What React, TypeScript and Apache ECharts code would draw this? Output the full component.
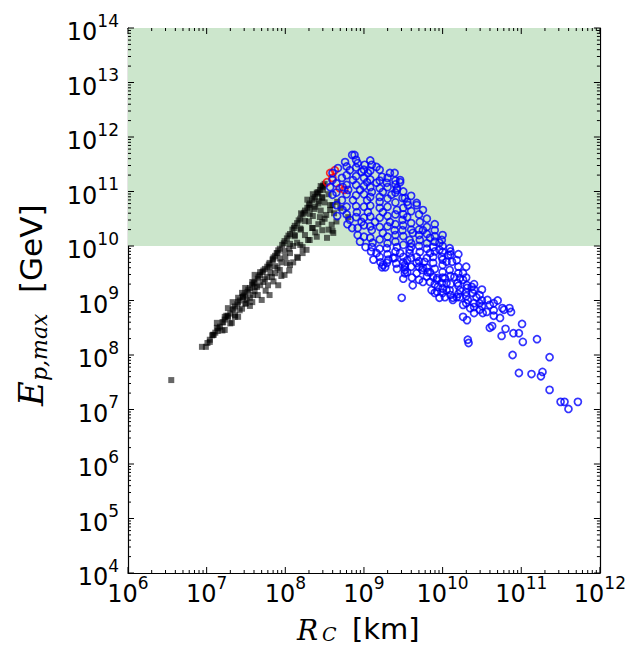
import React, { useEffect, useRef } from "react";
import * as echarts from "echarts";

// Tick values (km on x, GeV on y)
const xDecades = [1e6, 1e7, 1e8, 1e9, 1e10, 1e11, 1e12];
const yDecades = [1e4, 1e5, 1e6, 1e7, 1e8, 1e9, 1e10, 1e11, 1e12, 1e13, 1e14];
const minorSteps = [2, 3, 4, 5, 6, 7, 8, 9];

// UHECR threshold band (GeV)
const uhecrLow = 1e10;
const uhecrHigh = 1e14;

// Points, stored as [log10(R_C / km), log10(E_p,max / GeV)]
const blackBandTop: [number, number][] = [
  [7.04, 8.28], [7.11, 8.41], [7.17, 8.52], [7.23, 8.65], [7.30, 8.76], [7.36, 8.89],
  [7.42, 9.0], [7.49, 9.12], [7.55, 9.23], [7.61, 9.36], [7.68, 9.47], [7.74, 9.58],
  [7.8, 9.69], [7.87, 9.82], [7.93, 9.95], [7.99, 10.09], [8.06, 10.22], [8.12, 10.37],
  [8.19, 10.5], [8.25, 10.65], [8.31, 10.78], [8.38, 10.9], [8.44, 11.03], [8.5, 11.14],
  [7.14, 8.44], [7.27, 8.69], [7.39, 8.93], [7.52, 9.16], [7.65, 9.4], [7.77, 9.62],
  [7.9, 9.87], [8.02, 10.14], [8.15, 10.42], [8.28, 10.7], [8.41, 10.96],
  [7.07, 8.36], [7.2, 8.6], [7.33, 8.83], [7.46, 9.06], [7.58, 9.29], [7.71, 9.52],
  [7.84, 9.76], [7.96, 10.02], [8.09, 10.3], [8.22, 10.58], [8.34, 10.84], [8.47, 11.08],
  [7.01, 8.22], [7.09, 8.37], [7.15, 8.49], [7.21, 8.6], [7.27, 8.72], [7.34, 8.85],
  [7.4, 8.97], [7.47, 9.09], [7.53, 9.2], [7.6, 9.32], [7.66, 9.44], [7.72, 9.55],
  [7.79, 9.66], [7.85, 9.79], [7.91, 9.92], [7.98, 10.05], [8.04, 10.19], [8.11, 10.33],
  [8.17, 10.47], [8.24, 10.61], [8.3, 10.75], [8.36, 10.87], [8.42, 10.99], [8.48, 11.11],
];
const blackBandSecond: [number, number][] = [
  [7.23, 8.46], [7.36, 8.7], [7.49, 8.94], [7.61, 9.17], [7.74, 9.39], [7.87, 9.63],
  [7.99, 9.91], [8.12, 10.18], [8.25, 10.46], [8.38, 10.72], [8.47, 10.9],
  [7.3, 8.58], [7.42, 8.82], [7.55, 9.05], [7.68, 9.28], [7.81, 9.51], [7.93, 9.77],
  [8.06, 10.04], [8.19, 10.32], [8.31, 10.59], [8.43, 10.82],
];
const blackCloud: [number, number][] = [
  [6.55, 7.54], [6.94, 8.15], [6.99, 8.15], [7.04, 8.24], [7.08, 8.37], [7.13, 8.5],
  [7.13, 8.59], [7.25, 8.72], [7.27, 8.86], [7.32, 8.59], [7.36, 8.73], [7.33, 8.97],
  [7.4, 9.05], [7.45, 9.14], [7.49, 9.23], [7.51, 9.01], [7.58, 8.97], [7.59, 9.1],
  [7.64, 9.25], [7.58, 9.34], [7.61, 9.47], [7.68, 9.52], [7.72, 9.34], [7.78, 9.28],
  [7.77, 9.43], [7.8, 9.61], [7.84, 9.74], [7.89, 9.87], [7.87, 9.5], [7.83, 9.43],
  [8.27, 9.93], [8.53, 10.15], [7.7, 9.01], [7.8, 9.1], [7.91, 9.28], [7.99, 9.47],
  [8.06, 9.65], [8.16, 9.78], [8.19, 10.02], [8.29, 10.11], [8.34, 10.33], [8.47, 10.44],
  [8.52, 10.57], [8.57, 10.75], [8.59, 10.39], [8.8, 10.53], [8.61, 10.24], [8.47, 10.29],
  [8.4, 10.17], [8.31, 10.11], [8.22, 9.98], [8.15, 10.06], [8.06, 9.87], [8.66, 10.81],
  [8.57, 10.66], [8.6, 10.28], [8.35, 10.33], [8.44, 10.53], [8.31, 10.7], [8.6, 10.75],
  [8.47, 10.88], [8.48, 11.03], [8.4, 10.98], [7.23, 8.7], [7.46, 9.06], [7.61, 9.25],
  [7.93, 9.56], [8.02, 9.69], [8.15, 9.8], [8.22, 9.87],
  [8.2, 10.3], [8.25, 10.2], [8.3, 10.45], [8.35, 10.55], [8.38, 10.25], [8.42, 10.4],
  [8.45, 10.65], [8.5, 10.8], [8.5, 10.5], [8.55, 10.95], [8.55, 10.3], [8.62, 10.6],
  [8.65, 10.45], [8.7, 10.7], [8.1, 10.0], [8.12, 10.2], [8.0, 9.8], [8.05, 9.95],
  [7.95, 9.7], [7.9, 9.6], [7.85, 9.35], [7.95, 9.45], [8.05, 9.55], [8.1, 9.7],
  [7.75, 9.18], [7.65, 9.1], [7.55, 8.9], [7.45, 8.85], [7.4, 8.7], [7.2, 8.45],
  [7.5, 8.95], [8.2, 10.6], [8.28, 10.85], [8.35, 10.95], [8.45, 11.1], [8.42, 10.78],
  [8.37, 10.68],
];
const redPoints: [number, number][] = [
  [8.53, 11.17], [8.57, 11.34], [8.63, 11.39], [8.69, 11.06], [8.75, 11.03], [8.6, 11.25],
];
const bluePoints: [number, number][] = [
  [9.48, 9.05], [9.62, 9.28], [9.75, 9.34], [10.26, 8.7], [10.31, 8.64], [10.32, 8.28],
  [10.33, 8.22], [10.6, 8.5], [10.63, 8.53], [10.73, 8.68], [10.78, 8.83], [10.87, 8.79],
  [10.75, 8.35], [10.8, 8.48], [10.9, 8.4], [10.97, 8.4], [11.02, 8.24], [11.01, 8.57],
  [11.2, 8.29], [10.89, 8.0], [10.97, 7.67], [11.13, 7.65], [11.25, 7.61], [11.27, 7.69],
  [11.36, 7.96], [11.36, 7.36], [11.5, 7.14], [11.55, 7.14], [11.6, 7.01], [11.72, 7.14],
  [10.47, 8.83], [10.51, 8.77], [10.56, 8.79], [10.57, 9.01], [10.43, 9.06], [10.4, 8.77],
  [10.35, 8.86], [10.26, 8.92], [10.32, 9.01], [10.38, 9.14], [10.31, 9.23], [10.22, 9.19],
  [10.18, 9.06], [10.13, 9.01], [10.09, 9.19], [10.19, 9.32], [10.26, 9.5], [10.15, 9.43],
  [10.05, 9.32], [10.0, 9.14], [9.96, 9.05], [9.9, 9.14], [9.86, 9.19], [9.94, 9.25],
  [10.03, 9.41], [10.09, 9.56], [9.93, 9.41], [9.84, 9.34], [9.81, 9.52], [9.74, 9.56],
  [9.55, 9.52], [9.52, 9.65], [9.24, 9.65], [9.29, 9.69], [9.37, 9.78], [9.46, 9.87],
  [9.58, 9.87], [9.67, 9.8], [9.77, 9.71], [9.88, 9.69], [10.0, 9.65], [10.12, 9.71],
  [9.99, 9.8], [9.84, 9.87], [9.71, 9.89],
  [9.52, 10.88], [9.67, 10.75], [9.56, 10.75], [9.9, 10.29], [9.71, 10.44], [9.8, 10.35],
  [9.96, 10.06], [10.09, 9.96], [10.07, 9.83], [10.26, 9.38], [10.37, 9.25], [10.47, 9.1],
  [10.6, 8.92], [10.47, 8.95], [10.76, 8.86], [10.85, 8.86], [9.55, 9.74], [9.52, 9.56],
  [9.67, 9.69], [9.75, 9.6], [9.88, 9.43], [9.99, 9.32], [9.93, 9.16], [10.03, 9.06],
  [10.13, 9.05], [10.22, 9.06], [9.58, 9.93], [9.88, 9.8], [10.05, 9.71], [10.18, 9.74],
  [10.22, 9.41], [10.31, 9.28], [9.71, 10.11], [9.84, 10.15], [9.62, 10.24], [9.49, 10.29],
  [9.55, 10.53], [9.75, 10.29], [9.88, 9.98], [10.0, 9.89],
  [8.85, 11.67], [8.88, 11.67], [8.76, 11.54], [8.92, 11.52], [9.01, 11.49], [9.1, 11.49],
  [9.16, 11.45], [8.67, 11.43], [8.82, 11.39], [8.97, 11.36], [9.05, 11.34], [9.33, 11.34],
  [9.39, 11.34], [9.46, 11.17], [9.23, 11.27], [8.6, 11.34], [8.6, 11.21], [8.72, 11.25],
  [8.86, 11.21], [9.04, 11.17], [9.16, 11.16], [9.29, 11.16], [8.57, 11.08], [8.73, 11.08],
  [8.8, 11.03], [8.95, 11.03], [9.1, 10.99], [9.24, 10.99], [9.42, 11.03], [9.35, 10.94],
  [9.49, 10.88], [9.55, 10.81], [8.6, 10.94], [8.72, 10.84], [8.86, 10.84], [9.04, 10.84],
  [9.2, 10.81], [8.73, 10.66], [8.91, 10.62], [9.05, 10.62], [9.24, 10.62], [9.42, 10.66],
  [8.82, 10.48], [8.97, 10.44], [9.14, 10.44], [9.33, 10.44], [9.49, 10.48], [8.85, 10.33],
  [8.92, 10.33], [9.1, 10.29], [9.24, 10.24], [9.39, 10.29], [9.11, 10.06], [9.16, 9.87],
  [9.29, 9.96], [9.42, 9.98], [9.58, 10.11],
  [9.1, 9.98], [9.23, 9.61], [9.39, 9.78], [9.52, 9.61], [9.67, 9.5], [9.84, 9.52],
  [9.93, 9.38], [10.05, 9.19], [9.46, 11.21], [9.42, 11.06], [9.67, 10.79], [9.75, 10.66],
  [9.99, 10.11], [9.96, 9.93], [9.27, 9.61], [9.52, 9.5],
  [8.65, 11.15], [8.65, 10.98], [8.65, 10.75], [8.66, 10.55],
  [8.78, 11.46], [8.78, 11.3], [8.78, 11.12], [8.78, 10.95], [8.78, 10.72], [8.78, 10.58], [8.79, 10.4],
  [8.9, 11.58], [8.9, 11.44], [8.9, 11.28], [8.9, 11.12], [8.9, 10.93], [8.9, 10.73], [8.9, 10.53], [8.92, 10.2], [8.95, 10.08],
  [9.0, 11.4], [9.0, 11.25], [9.0, 11.1], [9.0, 10.95], [9.0, 10.72], [9.0, 10.52], [9.0, 10.38], [9.0, 10.17], [9.02, 9.98],
  [9.08, 11.57], [9.08, 11.38], [9.08, 11.22], [9.08, 11.08], [9.08, 10.9], [9.08, 10.74], [9.08, 10.54], [9.08, 10.36], [9.08, 10.15], [9.09, 9.9], [9.12, 9.75],
  [9.2, 11.4], [9.2, 11.2], [9.2, 11.06], [9.2, 10.9], [9.2, 10.7], [9.2, 10.52], [9.2, 10.35], [9.2, 10.12], [9.2, 9.95], [9.2, 9.8], [9.21, 9.7],
  [9.3, 11.25], [9.3, 11.08], [9.3, 10.87], [9.3, 10.72], [9.3, 10.55], [9.3, 10.36], [9.3, 10.17], [9.3, 10.05], [9.3, 9.85], [9.31, 9.75],
  [9.4, 11.2], [9.4, 11.13], [9.4, 10.98], [9.4, 10.8], [9.4, 10.58], [9.4, 10.4], [9.4, 10.2], [9.4, 10.08], [9.4, 9.9], [9.41, 9.68], [9.42, 9.58],
  [9.5, 11.0], [9.5, 10.7], [9.5, 10.58], [9.5, 10.38], [9.5, 10.18], [9.5, 10.02], [9.5, 9.8], [9.5, 9.7], [9.5, 9.4],
  [9.6, 10.92], [9.6, 10.64], [9.6, 10.42], [9.6, 10.3], [9.6, 10.05], [9.6, 9.98], [9.6, 9.78], [9.6, 9.62], [9.61, 9.42],
  [9.7, 10.58], [9.7, 10.3], [9.7, 10.2], [9.7, 10.0], [9.7, 9.72], [9.7, 9.62], [9.7, 9.38],
  [9.8, 10.5], [9.8, 10.22], [9.8, 10.05], [9.8, 9.95], [9.8, 9.78], [9.8, 9.6], [9.8, 9.44],
  [9.9, 10.4], [9.9, 10.18], [9.9, 10.08], [9.9, 9.9], [9.9, 9.58], [9.9, 9.3],
  [10.0, 10.2], [10.0, 10.0], [10.0, 9.75], [10.0, 9.52], [10.0, 9.42], [10.0, 9.22],
  [10.1, 9.9], [10.1, 9.84], [10.1, 9.45], [10.1, 9.3], [10.1, 9.1],
  [10.2, 9.85], [10.2, 9.62], [10.2, 9.5], [10.2, 9.27], [10.2, 9.12],
  [10.3, 9.62], [10.3, 9.42], [10.3, 9.15], [10.3, 9.08], [10.3, 8.95],
  [10.4, 9.3], [10.4, 9.2], [10.4, 8.95], [10.4, 8.88],
  [10.5, 9.2], [10.5, 9.0], [10.5, 8.9], [10.65, 8.95], [10.65, 8.82], [10.65, 8.72], [10.7, 9.0],
];

const toData = (pts: [number, number][]) => pts.map(([lr, le]) => [Math.pow(10, lr), Math.pow(10, le)]);
const minorOf = (decades: number[]) => {
  const out: number[] = [];
  decades.slice(0, -1).forEach((d) => minorSteps.forEach((k) => out.push(k * d)));
  return out;
};

const SANS = "DejaVu Sans";
const MATH = "DejaVu Serif";
const MAJOR_LEN = 6;
const MINOR_LEN = 3;

export default function App() {
  const ref = useRef<HTMLDivElement>(null);
  useEffect(() => {
    if (!ref.current) return;
    const chart = echarts.init(ref.current, null, { renderer: "svg" });
    const expFmt = (v: number) => `{b|10}{s|${Math.round(Math.log10(v))}}`;
    const rich = {
      b: { fontSize: 24, fontFamily: SANS, color: "#000", lineHeight: 32, verticalAlign: "bottom" },
      s: { fontSize: 17, fontFamily: SANS, color: "#000", lineHeight: 32, verticalAlign: "top" },
    };
    const frameLine = { show: true, lineStyle: { color: "#000", width: 1.2 } };
    const mkX = (pos: string, labels: boolean) => ({
      type: "log",
      logBase: 10,
      min: 1e6,
      max: 1e12,
      position: pos,
      axisLine: frameLine,
      axisTick: { show: false },
      axisLabel: labels
        ? { show: true, customValues: xDecades, formatter: expFmt, rich, margin: 1 }
        : { show: false },
      splitLine: { show: false },
      minorTick: { show: false },
    });
    const mkY = (pos: string, labels: boolean) => ({
      type: "log",
      logBase: 10,
      min: 1e4,
      max: 1e14,
      position: pos,
      axisLine: frameLine,
      axisTick: { show: false },
      axisLabel: labels
        ? { show: true, customValues: yDecades, formatter: expFmt, rich, margin: 9 }
        : { show: false },
      splitLine: { show: false },
      minorTick: { show: false },
    });

    const xTickData = [
      ...xDecades.map((v) => [v, 1e9, MAJOR_LEN]),
      ...minorOf(xDecades).map((v) => [v, 1e9, MINOR_LEN]),
    ];
    const yTickData = [
      ...yDecades.map((v) => [1e9, v, MAJOR_LEN]),
      ...minorOf(yDecades).map((v) => [1e9, v, MINOR_LEN]),
    ];
    const tickStyle = { stroke: "#000", lineWidth: 1 };

    chart.setOption({
      animation: false,
      backgroundColor: "#fff",
      grid: { left: 128, top: 28, width: 472, height: 545, containLabel: false },
      xAxis: [mkX("bottom", true), mkX("top", false)],
      yAxis: [mkY("left", true), mkY("right", false)],
      series: [
        {
          type: "scatter",
          data: [],
          z: 1,
          silent: true,
          markArea: {
            silent: true,
            itemStyle: { color: "#cce6cc" },
            data: [[{ yAxis: uhecrLow }, { yAxis: uhecrHigh }]],
          },
        },
        {
          type: "scatter",
          name: "black",
          z: 2,
          symbol: "rect",
          symbolSize: 6,
          itemStyle: { color: "rgba(0,0,0,0.75)" },
          data: toData([...blackCloud, ...blackBandSecond, ...blackBandTop]),
        },
        {
          type: "scatter",
          name: "red",
          z: 3,
          symbol: "circle",
          symbolSize: 7,
          itemStyle: { color: "rgba(255,0,0,0)", borderColor: "#ff0000", borderWidth: 1.7 },
          data: toData(redPoints),
        },
        {
          type: "scatter",
          name: "blue",
          z: 4,
          symbol: "circle",
          symbolSize: 7,
          itemStyle: { color: "rgba(0,0,255,0)", borderColor: "#0000ff", borderWidth: 1.7 },
          data: toData(bluePoints),
        },
        {
          type: "custom",
          name: "xticks",
          z: 6,
          silent: true,
          clip: false,
          xAxisIndex: 0,
          yAxisIndex: 0,
          data: xTickData,
          renderItem: (params: any, api: any) => {
            const cs = params.coordSys;
            const x = api.coord([api.value(0), api.value(1)])[0];
            const len = api.value(2);
            const yb = cs.y + cs.height;
            const yt = cs.y;
            return {
              type: "group",
              children: [
                { type: "line", shape: { x1: x, y1: yb, x2: x, y2: yb - len }, style: tickStyle },
                { type: "line", shape: { x1: x, y1: yt, x2: x, y2: yt + len }, style: tickStyle },
              ],
            };
          },
        },
        {
          type: "custom",
          name: "yticks",
          z: 6,
          silent: true,
          clip: false,
          xAxisIndex: 0,
          yAxisIndex: 0,
          data: yTickData,
          renderItem: (params: any, api: any) => {
            const cs = params.coordSys;
            const y = api.coord([api.value(0), api.value(1)])[1];
            const len = api.value(2);
            const xl = cs.x;
            const xr = cs.x + cs.width;
            return {
              type: "group",
              children: [
                { type: "line", shape: { x1: xl, y1: y, x2: xl + len, y2: y }, style: tickStyle },
                { type: "line", shape: { x1: xr, y1: y, x2: xr - len, y2: y }, style: tickStyle },
              ],
            };
          },
        },
      ],
      graphic: [
        { type: "text", left: 442, top: 119, style: { text: "UHECRs", fontSize: 33, fontFamily: SANS, fill: "#000" } },
        { type: "text", x: 297, y: 630, style: { text: "R", fontSize: 28, fontFamily: MATH, fontStyle: "italic", fill: "#000", align: "left", verticalAlign: "middle" } },
        { type: "text", x: 322, y: 634, style: { text: "C", fontSize: 19, fontFamily: MATH, fontStyle: "italic", fill: "#000", align: "left", verticalAlign: "middle" } },
        { type: "text", x: 352, y: 629, style: { text: "[km]", fontSize: 29, fontFamily: SANS, fill: "#000", align: "left", verticalAlign: "middle" } },
        { type: "text", x: 31, y: 406, rotation: Math.PI / 2, style: { text: "E", fontSize: 34, fontFamily: MATH, fontStyle: "italic", fill: "#000", align: "left", verticalAlign: "middle" } },
        { type: "text", x: 39, y: 381, rotation: Math.PI / 2, style: { text: "p,max", fontSize: 22, fontFamily: MATH, fontStyle: "italic", fill: "#000", align: "left", verticalAlign: "middle" } },
        { type: "text", x: 31, y: 293, rotation: Math.PI / 2, style: { text: "[GeV]", fontSize: 31, fontFamily: SANS, fill: "#000", align: "left", verticalAlign: "middle" } },
      ],
    });
    return () => chart.dispose();
  }, []);
  return <div ref={ref} style={{ position: "fixed", left: 0, top: 0, width: 629, height: 647 }} />;
}
